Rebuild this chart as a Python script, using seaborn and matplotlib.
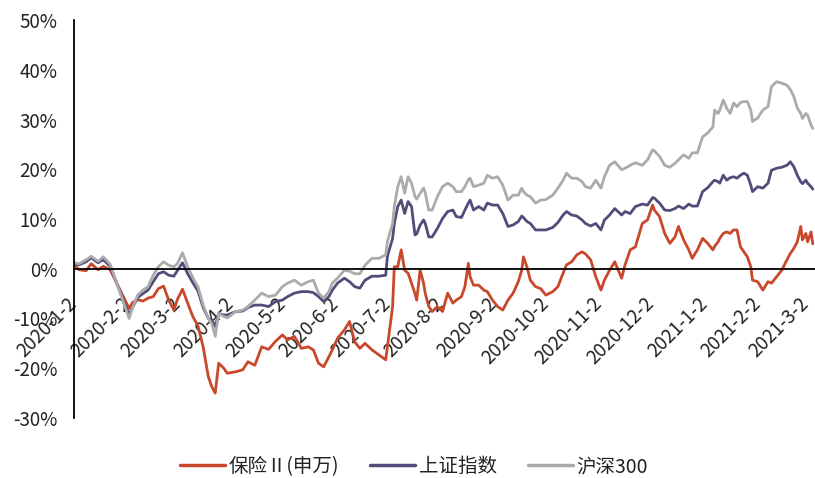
import pandas as pd
import matplotlib
matplotlib.use('Agg')
import matplotlib.pyplot as plt
from matplotlib.lines import Line2D
from matplotlib.ticker import FuncFormatter
import seaborn as sns

# values (cumulative return, %)
dates = [
    "2020-01-02", "2020-01-05", "2020-01-09", "2020-01-12", "2020-01-16", "2020-01-19", "2020-01-23",
    "2020-02-03", "2020-02-05", "2020-02-08", "2020-02-11", "2020-02-14", "2020-02-17", "2020-02-20",
    "2020-02-23", "2020-02-26", "2020-02-29",
    "2020-03-02", "2020-03-05", "2020-03-08", "2020-03-11", "2020-03-14", "2020-03-17", "2020-03-20",
    "2020-03-22", "2020-03-24", "2020-03-26", "2020-03-29", "2020-03-31",
    "2020-04-05", "2020-04-09", "2020-04-12", "2020-04-16", "2020-04-20", "2020-04-24", "2020-04-28",
    "2020-05-02", "2020-05-05", "2020-05-09", "2020-05-13", "2020-05-17", "2020-05-20", "2020-05-23",
    "2020-05-26", "2020-05-29", "2020-05-31",
    "2020-06-03", "2020-06-07", "2020-06-10", "2020-06-13", "2020-06-16", "2020-06-19", "2020-06-23",
    "2020-06-27",
    "2020-07-01", "2020-07-02", "2020-07-05", "2020-07-06", "2020-07-08", "2020-07-10", "2020-07-12",
    "2020-07-14", "2020-07-16", "2020-07-18", "2020-07-19", "2020-07-21", "2020-07-23", "2020-07-24",
    "2020-07-26", "2020-07-28", "2020-07-31",
    "2020-08-03", "2020-08-06", "2020-08-09", "2020-08-11", "2020-08-14", "2020-08-16", "2020-08-18",
    "2020-08-19", "2020-08-21", "2020-08-24", "2020-08-27", "2020-08-29",
    "2020-09-01", "2020-09-04", "2020-09-07", "2020-09-10", "2020-09-13", "2020-09-16", "2020-09-18",
    "2020-09-19", "2020-09-21", "2020-09-23", "2020-09-26", "2020-09-29",
    "2020-10-02", "2020-10-06", "2020-10-09", "2020-10-12", "2020-10-14", "2020-10-17", "2020-10-20",
    "2020-10-23", "2020-10-25", "2020-10-28", "2020-10-31",
    "2020-11-03", "2020-11-05", "2020-11-08", "2020-11-11", "2020-11-15", "2020-11-17", "2020-11-20",
    "2020-11-23", "2020-11-27", "2020-11-30",
    "2020-12-03", "2020-12-04", "2020-12-07", "2020-12-10", "2020-12-13", "2020-12-16", "2020-12-18",
    "2020-12-21", "2020-12-24", "2020-12-26", "2020-12-29",
    "2021-01-01", "2021-01-04", "2021-01-07", "2021-01-08", "2021-01-10", "2021-01-11", "2021-01-13",
    "2021-01-15", "2021-01-17", "2021-01-19", "2021-01-21", "2021-01-23", "2021-01-25", "2021-01-27",
    "2021-01-29", "2021-01-30",
    "2021-02-02", "2021-02-05", "2021-02-08", "2021-02-10", "2021-02-13", "2021-02-16", "2021-02-19",
    "2021-02-21", "2021-02-23", "2021-02-25", "2021-02-27", "2021-02-28",
    "2021-03-02", "2021-03-03", "2021-03-05", "2021-03-06",
]

baoxian = [
    0.8, -0.2, -0.4, 1.0, -0.2, 0.5, -0.2,
    -8.0, -6.8, -6.2, -6.5, -5.9, -5.6, -4.0, -3.5, -6.3, -8.3,
    -6.2, -4.1, -6.9, -9.6, -11.5, -15.7, -21.7, -23.7, -25.0, -19.0, -20.0, -21.0,
    -20.7, -20.3, -18.7, -19.4, -15.7, -16.2, -14.6,
    -13.3, -14.3, -13.6, -16.0, -15.7, -16.3, -19.0, -19.7, -17.7, -16.3,
    -14.0, -12.3, -10.6, -14.7, -16.0, -15.0, -16.3, -17.3,
    -18.3, -15.7, -7.6, 0.4, 0.4, 3.8, -0.3, -0.9, -2.9, -5.0, -6.3, -0.3, -2.9, -5.0, -7.6, -8.6, -7.6,
    -8.6, -4.9, -6.9, -6.3, -5.6, -3.6, 1.1, -1.6, -3.3, -3.3, -4.3, -4.6,
    -6.3, -7.6, -8.3, -6.3, -4.9, -2.6, -0.3, 2.4, 0.4, -2.3, -3.6, -4.0,
    -5.3, -4.6, -3.6, -0.9, 0.8, 1.4, 2.8, 3.4, 3.0, 1.8, -1.6,
    -4.3, -2.3, -0.3, 1.4, -1.9, 0.8, 3.8, 4.4, 9.1, 9.8,
    12.8, 11.8, 10.5, 7.1, 5.1, 6.4, 8.5, 5.8, 3.8, 2.1, 3.8,
    6.1, 5.1, 3.8, 4.5, 5.4, 6.1, 7.1, 7.4, 7.1, 7.8, 7.8, 4.4, 3.4, 2.4, 0.4, -2.3,
    -2.6, -4.3, -2.6, -2.9, -1.6, -0.3, 1.8, 3.1, 4.1, 5.4, 8.5, 5.8,
    7.1, 5.4, 7.4, 5.0,
]

shangzheng = [
    1.0, 0.8, 1.4, 2.2, 1.2, 1.8, 0.5,
    -9.3, -7.8, -5.8, -5.0, -4.3, -2.6, -1.0, -0.6, -1.3, -1.5,
    -0.4, 1.2, -1.0, -2.8, -4.5, -7.8, -10.0, -10.3, -11.6, -9.0, -9.3, -9.3,
    -8.6, -8.5, -7.8, -7.3, -7.3, -7.6, -6.6,
    -6.3, -5.6, -4.9, -4.6, -4.6, -4.8, -5.6, -6.6, -5.6, -4.3,
    -2.9, -1.9, -2.6, -3.6, -3.9, -2.3, -1.5, -1.5,
    -1.3, 2.5, 6.1, 9.1, 12.5, 13.8, 11.1, 13.5, 12.5, 6.8, 7.0, 8.8, 9.8, 9.1, 6.4, 6.4, 8.1,
    10.1, 11.5, 11.8, 10.5, 10.3, 11.8, 13.2, 13.8, 11.8, 12.5, 11.8, 13.2,
    12.8, 12.8, 11.1, 8.5, 8.8, 9.5, 10.6, 10.3, 9.5, 9.1, 7.8, 7.8,
    7.8, 8.3, 9.3, 10.8, 11.5, 10.8, 10.6, 9.8, 9.1, 8.6, 9.1,
    7.8, 9.8, 10.8, 12.1, 10.8, 11.5, 11.1, 12.5, 13.0, 12.8,
    14.3, 14.2, 13.2, 11.8, 11.7, 12.1, 12.6, 12.1, 13.0, 12.6, 12.6,
    15.5, 16.3, 17.5, 17.8, 17.5, 17.2, 18.8, 17.8, 18.3, 18.5, 18.2, 18.8, 19.2, 18.8, 16.8, 15.5,
    16.5, 16.2, 17.2, 19.8, 20.2, 20.4, 20.8, 21.5, 20.5, 18.8, 17.5, 17.1,
    17.8, 17.2, 16.5, 16.0,
]

hushen300 = [
    1.2, 1.0, 1.8, 2.5, 1.5, 2.4, 0.9,
    -10.0, -7.8, -5.3, -4.3, -3.6, -1.3, 0.4, 1.4, 0.7, 0.4,
    1.0, 3.2, 0.4, -1.8, -3.6, -7.3, -10.0, -11.0, -13.6, -9.0, -9.6, -9.9,
    -8.6, -8.3, -7.6, -6.3, -4.9, -5.6, -5.3,
    -3.6, -2.9, -2.3, -3.3, -2.6, -2.3, -4.9, -5.9, -4.6, -2.9,
    -1.9, -0.3, -0.5, -1.0, -1.0, 0.7, 2.1, 2.1,
    2.8, 5.5, 9.1, 12.5, 16.5, 18.5, 15.2, 18.5, 17.2, 14.5, 14.0, 15.2, 16.2, 15.2, 11.8, 11.8, 14.5,
    16.5, 17.2, 16.5, 15.5, 15.5, 16.5, 17.9, 18.2, 16.5, 16.8, 17.2, 18.8,
    18.2, 18.5, 16.8, 13.8, 14.8, 14.8, 16.2, 15.5, 14.8, 14.5, 13.2, 13.8,
    13.9, 14.8, 16.2, 17.8, 19.2, 18.2, 18.2, 17.5, 16.5, 16.2, 17.8,
    16.2, 18.5, 20.8, 21.5, 19.9, 20.2, 20.8, 21.3, 20.8, 21.9,
    23.9, 23.7, 22.6, 20.8, 20.4, 21.2, 21.9, 22.9, 22.2, 23.3, 23.3,
    26.5, 27.3, 28.5, 31.9, 31.2, 31.9, 33.9, 32.3, 31.2, 33.3, 32.6, 33.4, 33.6, 33.6, 31.9, 29.6,
    30.3, 31.9, 32.6, 36.6, 37.6, 37.3, 36.9, 36.0, 34.6, 32.3, 31.2, 30.2,
    31.2, 30.9, 28.9, 28.2,
]

series_names = ["保险Ⅱ(申万)", "上证指数", "沪深300"]
colors = ["#C9472B", "#514D7A", "#ABABAB"]

df = pd.DataFrame({
    "date": pd.to_datetime(dates),
    series_names[0]: baoxian,
    series_names[1]: shangzheng,
    series_names[2]: hushen300,
}).melt(id_vars="date", var_name="series", value_name="value")

tick_dates = pd.date_range("2020-01-02", periods=15, freq=pd.DateOffset(months=1))
tick_labels = [f"{d.year}-{d.month}-{d.day}" for d in tick_dates]

sns.set_theme(style="white")
plt.rcParams["font.family"] = ["Noto Sans CJK SC", "DejaVu Sans"]

fig = plt.figure(figsize=(8.15, 4.78), dpi=100)
ax = fig.add_axes([74 / 815, 1 - 418 / 478, (814.5 - 74) / 815, (418 - 20) / 478])

sns.lineplot(data=df, x="date", y="value", hue="series", hue_order=series_names,
             palette=colors, linewidth=2.0, ax=ax, legend=False)

ax.set_xlim(pd.Timestamp("2020-01-02"), pd.Timestamp("2021-03-07"))
ax.set_ylim(-30, 50)
ax.set_yticks(range(-30, 51, 10))
ax.yaxis.set_major_formatter(FuncFormatter(lambda v, p: f"{v:.0f}%"))
ax.set_xticks(tick_dates)
ax.set_xticklabels(tick_labels)
ax.set_xlabel("")
ax.set_ylabel("")

for s in ["top", "right"]:
    ax.spines[s].set_visible(False)
ax.spines["bottom"].set_position(("data", 0))
ax.spines["bottom"].set_color("black")
ax.spines["bottom"].set_linewidth(1.3)
ax.spines["left"].set_color("black")
ax.spines["left"].set_linewidth(1.3)

ax.tick_params(axis="x", direction="in", length=5, width=1.2, color="black",
               pad=23, labelsize=13.5, labelcolor="#222222", labelrotation=45)
ax.tick_params(axis="y", direction="in", length=5, width=1.2, color="black",
               pad=12, labelsize=13.5, labelcolor="#222222")
for t in ax.xaxis.get_major_ticks():
    t.label1.set_horizontalalignment("right")
    t.label1.set_verticalalignment("center")
    t.label1.set_rotation_mode("anchor")

handles = [Line2D([], [], color=c, linewidth=2.5) for c in colors]
fig.legend(handles, series_names, loc="center", bbox_to_anchor=(0.508, 0.024), ncol=3,
           frameon=False, fontsize=14, handlelength=2.3, handletextpad=0.2,
           columnspacing=1.6, labelcolor="#222222")

fig.savefig("out.png", dpi=100)
